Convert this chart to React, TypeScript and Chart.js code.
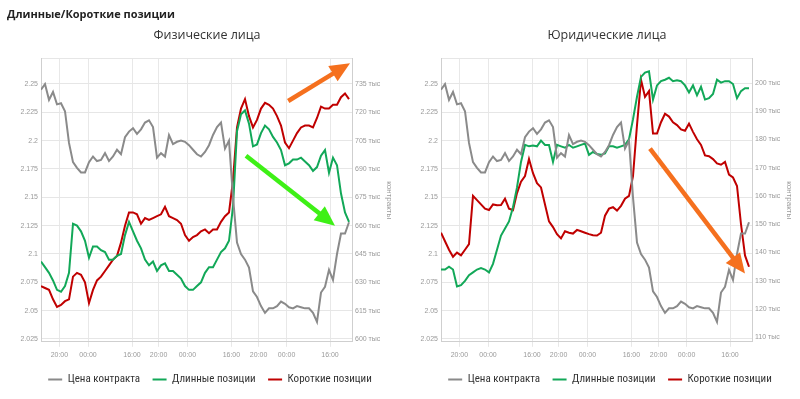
import React, { useEffect, useRef } from "react";
import { Chart, registerables } from "chart.js";
Chart.register(...registerables);

// ---- x axis (trading-time index, one step per sample) ----
const timeTickPos = [4.6, 11.75, 22.75, 29.4, 36.6, 47.6, 54.4, 61.4, 72.25];
const timeTickLabels = ["20:00", "00:00", "16:00", "20:00", "00:00", "16:00", "20:00", "00:00", "16:00"];

// ---- axis ticks ----
const priceTicks = [2.025, 2.05, 2.075, 2.1, 2.125, 2.15, 2.175, 2.2, 2.225, 2.25];
const physTicks = [600, 615, 630, 645, 660, 675, 690, 705, 720, 735];
const jurTicks = [110, 120, 130, 140, 150, 160, 170, 180, 190, 200];

// ---- series ----
const price = [
  2.245, 2.25, 2.236, 2.243, 2.232, 2.233, 2.226, 2.198, 2.181, 2.176,
  2.172, 2.172, 2.181, 2.186, 2.182, 2.183, 2.189, 2.182, 2.186, 2.192,
  2.188, 2.203, 2.208, 2.211, 2.206, 2.21, 2.216, 2.218, 2.212, 2.185,
  2.189, 2.186, 2.205, 2.197, 2.199, 2.2, 2.199, 2.196, 2.192, 2.188,
  2.186, 2.19, 2.196, 2.205, 2.212, 2.216, 2.193, 2.2, 2.15, 2.11,
  2.1, 2.095, 2.088, 2.067, 2.062, 2.054, 2.048, 2.052, 2.052, 2.054,
  2.058, 2.056, 2.053, 2.052, 2.054, 2.053, 2.052, 2.052, 2.048, 2.04,
  2.066, 2.071, 2.086, 2.077, 2.1, 2.118, 2.118, 2.128,
];

const physLong = [
  641, 638, 635, 631, 626, 625, 628, 635, 661, 660,
  657, 652, 643, 649, 649, 647, 646, 642, 642, 644,
  645, 655, 662, 657, 652, 648, 642, 639, 641, 636,
  639, 640, 636, 636, 634, 632, 628, 626, 626, 628,
  630, 635, 638, 638, 642, 646, 648, 652, 670, 710,
  719, 721, 714, 702, 703, 709, 713, 711, 707, 704,
  700, 692, 693, 695, 695, 696, 694, 692, 689, 691,
  697, 700, 688, 696, 692, 677, 667, 662,
];

const physShort = [
  628, 627, 626, 621, 617, 618, 620, 621, 633, 635,
  634, 630, 619, 626, 631, 633, 636, 639, 642, 644,
  651, 660, 667, 667, 666, 661, 664, 663, 664, 665,
  666, 670, 665, 664, 663, 661, 655, 652, 654, 655,
  657, 658, 656, 658, 658, 662, 665, 667, 684, 712,
  722, 727, 718, 712, 716, 722, 725, 724, 722, 718,
  713, 704, 701, 705, 709, 712, 713, 713, 712, 717,
  723, 722, 722, 724, 724, 728, 730, 727,
];

const jurLong = [
  134, 134, 135, 134, 128, 128.5, 130, 132, 133, 134,
  134.5, 134, 133, 136, 141, 146, 148.5, 151, 156, 163,
  172, 178, 177.5, 177.8, 177.5, 179.5, 178, 178, 172, 178,
  177.5, 177, 178, 177, 177.5, 178, 178.5, 174.5, 175.5, 174.8,
  174.5, 175, 177.5, 177.5, 177, 177.5, 178, 180, 187, 195,
  202, 203.5, 204, 194, 199, 200.5, 201, 201.7, 200.5, 200.8,
  200.5, 199, 196.5, 199, 195.5, 198.5, 194, 194.5, 196, 201,
  200, 200.5, 200.5, 199.5, 194.5, 197, 198, 198,
];

const jurShort = [
  147, 144, 141, 138.5, 140, 139, 141, 143, 160, 158.5,
  157, 155.5, 155, 157, 156.7, 156.8, 159, 155.5, 155, 161,
  165, 167, 173, 168, 164.5, 163, 157, 151, 149, 146.5,
  145, 147.5, 147, 146.7, 148, 147.5, 147, 146.5, 146.1, 146,
  147, 153, 155.5, 156, 154.8, 156.5, 159, 160, 167, 185,
  201, 195, 197, 182, 182, 186, 189, 188, 186, 185,
  183.5, 183, 185.5, 182.6, 180, 178, 174.3, 174, 173, 171.5,
  171, 172, 167.5, 166.5, 163.5, 150, 139, 135,
];

// ---- annotation arrows (x index, value on contracts axis) ----
const physArrows = [
  { x0: 61.8, y0: 726, x1: 77.25, y1: 746, color: "#f5701e" },
  { x0: 51.25, y0: 697, x1: 73.5, y1: 660, color: "#3ef016" },
];
const jurArrows = [{ x0: 52.25, y0: 176.7, x1: 76, y1: 132.6, color: "#f5701e" }];

const LEGEND_FONT = "'Liberation Sans Narrow', 'Roboto Condensed', 'Liberation Sans', sans-serif";
const TICK_FONT = "'Liberation Sans', Arial, sans-serif";

const arrowPlugin = {
  id: "arrows",
  afterDatasetsDraw(chart: any, _args: any, opts: any) {
    const arrows = opts.items || [];
    const xs = chart.scales.x;
    const ys = chart.scales.yR;
    const ctx = chart.ctx;
    ctx.save();
    for (const a of arrows) {
      const px0 = xs.getPixelForValue(a.x0);
      const py0 = ys.getPixelForValue(a.y0);
      const px1 = xs.getPixelForValue(a.x1);
      const py1 = ys.getPixelForValue(a.y1);
      const dx = px1 - px0;
      const dy = py1 - py0;
      const len = Math.hypot(dx, dy);
      const ux = dx / len;
      const uy = dy / len;
      const headLen = 20;
      const headHalf = 9;
      const bx = px1 - ux * headLen;
      const by = py1 - uy * headLen;
      ctx.strokeStyle = a.color;
      ctx.fillStyle = a.color;
      ctx.lineWidth = 4.5;
      ctx.lineCap = "butt";
      ctx.beginPath();
      ctx.moveTo(px0, py0);
      ctx.lineTo(bx + ux * 2, by + uy * 2);
      ctx.stroke();
      ctx.beginPath();
      ctx.moveTo(px1, py1);
      ctx.lineTo(bx - uy * headHalf, by + ux * headHalf);
      ctx.lineTo(bx + uy * headHalf, by - ux * headHalf);
      ctx.closePath();
      ctx.fill();
    }
    ctx.restore();
  },
};

const shiftPlugin = {
  id: "blockShift",
  afterLayout(chart: any) {
    if (chart.legend) {
      chart.legend.left += 10;
      chart.legend.right += 10;
    }
    if (chart.titleBlock) {
      chart.titleBlock.left += 7;
      chart.titleBlock.right += 7;
    }
  },
};

function makeConfig(
  title: string,
  longData: number[],
  shortData: number[],
  rMin: number,
  rMax: number,
  rTicks: number[],
  arrows: any[]
): any {
  const toXY = (arr: number[]) => arr.map((v, i) => ({ x: i, y: v }));
  return {
    type: "line",
    data: {
      datasets: [
        {
          label: "Цена контракта",
          data: toXY(price),
          yAxisID: "y",
          borderColor: "#8a8a8a",
          backgroundColor: "#8a8a8a",
          borderWidth: 2,
          pointRadius: 0,
          tension: 0,
        },
        {
          label: "Длинные позиции",
          data: toXY(longData),
          yAxisID: "yR",
          borderColor: "#12a858",
          backgroundColor: "#12a858",
          borderWidth: 2,
          pointRadius: 0,
          tension: 0,
        },
        {
          label: "Короткие позиции",
          data: toXY(shortData),
          yAxisID: "yR",
          borderColor: "#c00000",
          backgroundColor: "#c00000",
          borderWidth: 2,
          pointRadius: 0,
          tension: 0,
        },
      ],
    },
    options: {
      responsive: false,
      animation: false,
      devicePixelRatio: 1,
      layout: { padding: { top: 0, left: 0, right: 0, bottom: 4 } },
      plugins: {
        title: {
          display: true,
          text: title,
          color: "#333",
          font: { family: "'Open Sans', sans-serif", size: 12.5, weight: "normal" },
          padding: { top: 28, bottom: 15.5 },
        },
        legend: {
          position: "bottom",
          labels: {
            usePointStyle: true,
            pointStyle: "line",
            pointStyleWidth: 14,
            padding: 12.5,
            color: "#333",
            font: { family: LEGEND_FONT, size: 11 },
          },
        },
        tooltip: { enabled: false },
        arrows: { items: arrows },
      },
      scales: {
        x: {
          type: "linear",
          min: 0,
          max: 77.75,
          afterBuildTicks: (s: any) => {
            s.ticks = timeTickPos.map((v) => ({ value: v }));
          },
          afterFit: (s: any) => {
            s.height = 19.7;
          },
          ticks: {
            autoSkip: false,
            maxRotation: 0,
            padding: 4,
            color: "#9a9a9a",
            font: { family: TICK_FONT, size: 7 },
            callback: (_v: any, i: number) => timeTickLabels[i],
          },
          grid: { color: "#e8e8e8", tickLength: 5, drawTicks: true },
          border: { color: "#cfcfcf" },
        },
        y: {
          type: "linear",
          position: "left",
          min: 2.0225,
          max: 2.2725,
          afterBuildTicks: (s: any) => {
            s.ticks = [...priceTicks, 2.2725].map((v) => ({ value: v }));
          },
          afterFit: (s: any) => {
            s.width = 41;
          },
          ticks: {
            padding: 3,
            color: "#9a9a9a",
            font: { family: TICK_FONT, size: 7 },
            callback: (v: number, i: number) =>
              i < priceTicks.length ? String(Number(v.toFixed(3))) : "",
          },
          grid: { color: "#e6e6e6", drawTicks: false },
          border: { color: "#cfcfcf" },
        },
        yR: {
          type: "linear",
          position: "right",
          min: rMin,
          max: rMax,
          afterBuildTicks: (s: any) => {
            s.ticks = rTicks.map((v) => ({ value: v }));
          },
          afterFit: (s: any) => {
            s.width = 48;
          },
          ticks: {
            padding: 3,
            color: "#9a9a9a",
            font: { family: TICK_FONT, size: 7 },
            callback: (v: number) => `${v} тыс`,
          },
          title: {
            display: true,
            text: "контракты",
            color: "#9a9a9a",
            font: { family: TICK_FONT, size: 8 },
            padding: { top: 6, bottom: 0 },
          },
          grid: { drawOnChartArea: false, drawTicks: false },
          border: { color: "#cfcfcf" },
        },
      },
    },
    plugins: [arrowPlugin, shiftPlugin],
  };
}

function Panel(props: { cfg: () => any; left: number }) {
  const ref = useRef<HTMLCanvasElement | null>(null);
  useEffect(() => {
    if (!ref.current) return;
    const chart = new Chart(ref.current, props.cfg());
    return () => chart.destroy();
  }, []);
  return (
    <div style={{ position: "absolute", left: props.left, top: 0, width: 400, height: 399 }}>
      <canvas ref={ref} width={400} height={399} style={{ width: 400, height: 399, display: "block" }} />
    </div>
  );
}

export default function App() {
  return (
    <div
      style={{
        position: "fixed",
        left: 0,
        top: 0,
        width: 800,
        height: 399,
        background: "#fff",
        overflow: "hidden",
      }}
    >
      <Panel
        left={0}
        cfg={() => makeConfig("Физические лица", physLong, physShort, 598.5, 748.5, physTicks, physArrows)}
      />
      <Panel
        left={400}
        cfg={() => makeConfig("Юридические лица", jurLong, jurShort, 108.5, 208.5, jurTicks, jurArrows)}
      />
      <div
        style={{
          position: "absolute",
          left: 7,
          top: 6,
          fontFamily: "'Open Sans', sans-serif",
          fontWeight: 700,
          fontSize: 11,
          lineHeight: "16px",
          color: "#222",
          whiteSpace: "nowrap",
        }}
      >
        Длинные/Короткие позиции
      </div>
    </div>
  );
}
